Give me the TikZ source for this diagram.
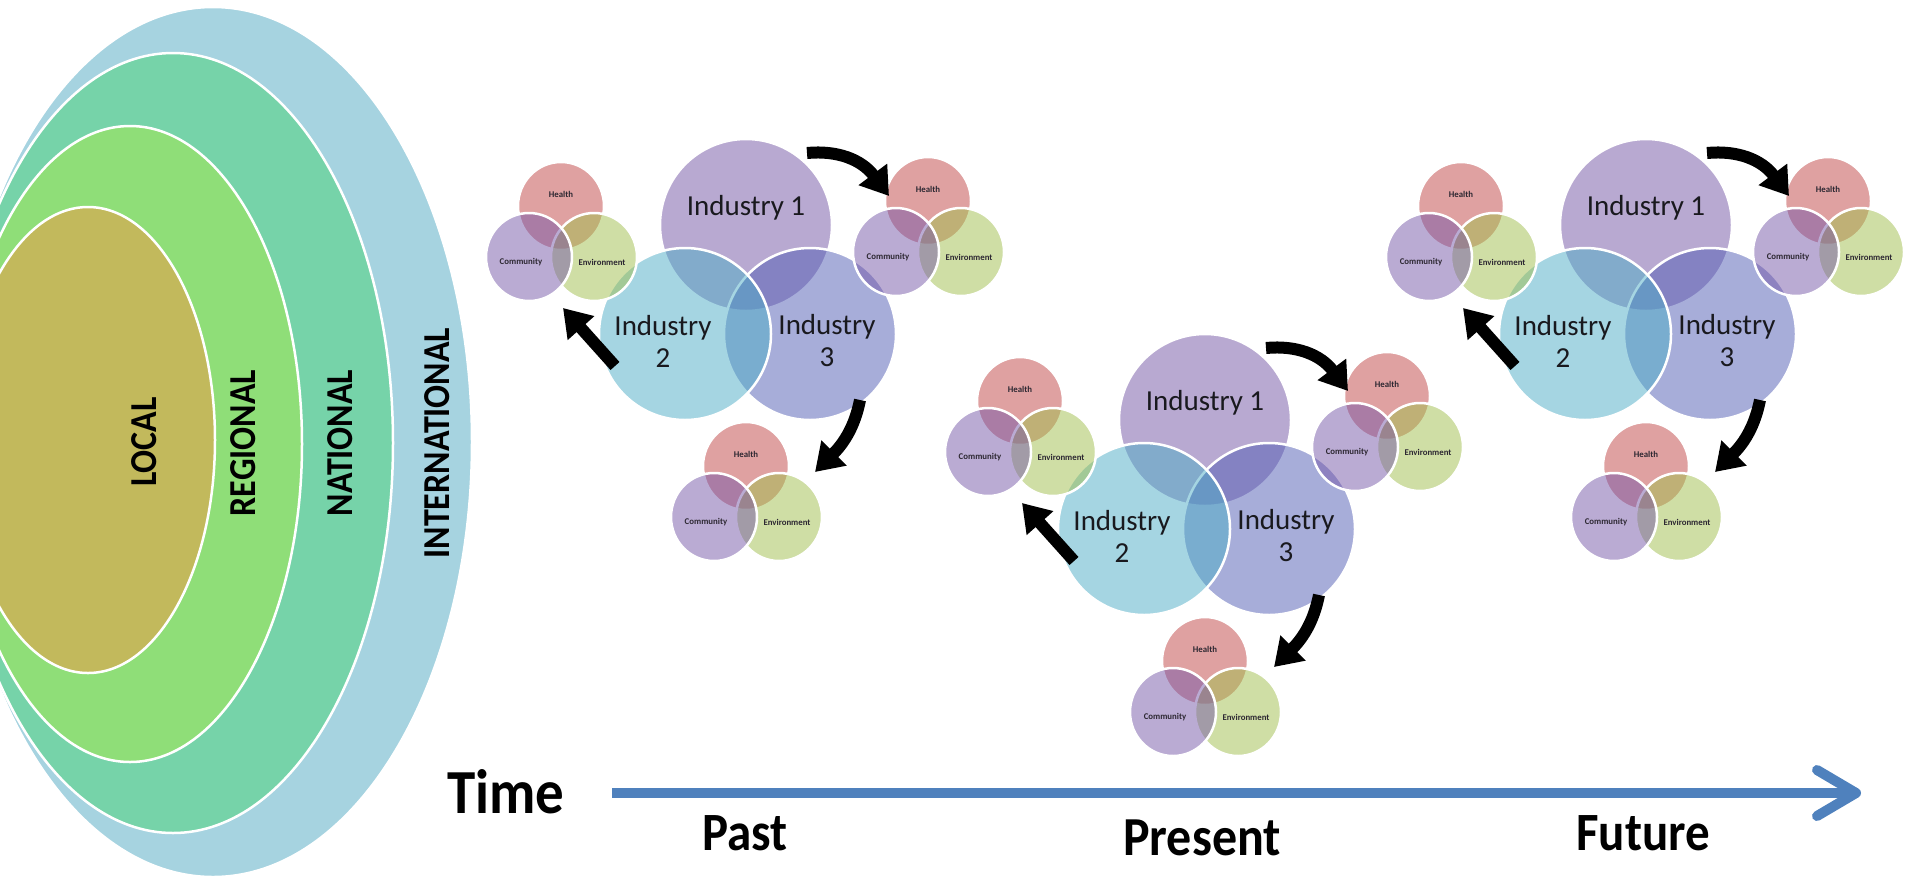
\documentclass[tikz,border=0pt]{standalone}
\usepackage{fontspec}
\setmainfont{Carlito}
\usetikzlibrary{arrows.meta}
\definecolor{intcol}{RGB}{166,211,224}
\definecolor{natcol}{RGB}{118,211,169}
\definecolor{regcol}{RGB}{143,222,120}
\definecolor{loccol}{RGB}{194,185,92}
\definecolor{hbase}{RGB}{193,69,69}
\definecolor{cbase}{RGB}{119,89,169}
\definecolor{ebase}{RGB}{161,191,77}
\definecolor{ione}{RGB}{115,85,165}
\definecolor{itwo}{RGB}{77,173,199}
\definecolor{ithree}{RGB}{81,93,181}
\definecolor{axiscol}{RGB}{79,129,189}
\definecolor{txtcol}{RGB}{25,25,30}
\definecolor{smcol}{RGB}{45,40,50}
\tikzset{
  ring/.style={draw=white, line width=2.5pt},
  ringlabel/.style={font=\fontsize{34}{34}\selectfont\bfseries, rotate=90, inner sep=0pt},
  bigtxt/.style={font=\fontsize{29}{32}\selectfont, text=txtcol, align=center, inner sep=0pt},
  smalltxt/.style={font=\fontsize{8.8}{9}\selectfont\bfseries, text=smcol, inner sep=0pt},
  vennc/.style={draw=white, line width=2.5pt, fill opacity=0.5},
  bendarrow/.style={line width=12pt, -{Triangle[width=34pt,length=27pt]}},
  timelbl/.style={anchor=base, inner sep=0pt},
  axisline/.style={draw=axiscol, line width=10pt, line cap=round, line join=round},
}
\newcommand\smallvenn[3]{%
  \begin{scope}[shift={(#1,#2)}]
    \filldraw[vennc, fill=hbase] (0,0) ellipse [x radius=43, y radius=44];
    \filldraw[vennc, fill=ebase] (33,51) ellipse [x radius=43, y radius=44];
    \filldraw[vennc, fill=cbase] (-32,51) ellipse [x radius=43, y radius=44];
    \node[smalltxt] (#3-h) at (0,-12) {Health};
    \node[smalltxt] (#3-c) at (-40,56) {Community};
    \node[smalltxt] (#3-e) at (41,56) {Environment};
  \end{scope}}
\newcommand\cluster[3]{%
  \begin{scope}[shift={(#1,#2)}]
    \filldraw[vennc, fill=ione] (746,225) circle [radius=86];
    \filldraw[vennc, fill=ithree] (810,334) circle [radius=86];
    \filldraw[vennc, fill=itwo] (685,334) circle [radius=86];
    \smallvenn{561}{206}{#3-vl}
    \smallvenn{928}{201}{#3-vr}
    \smallvenn{746}{466}{#3-vb}
    \node[bigtxt] (#3-t1) at (746,208) {Industry 1};
    \node[bigtxt] (#3-t2) at (663,341) {Industry\\2};
    \node[bigtxt] (#3-t3) at (827,341) {Industry\\3};
    \coordinate (#3-a1s) at (807,153);
    \coordinate (#3-a1e) at (889,196);
    \coordinate (#3-a2s) at (615,366);
    \coordinate (#3-a2e) at (563,308);
    \coordinate (#3-a3s) at (860,400);
    \coordinate (#3-a3e) at (815,472);
    \draw[bendarrow] (#3-a1s) .. controls (838,150) and (862,160) .. (#3-a1e);
    \draw[bendarrow] (#3-a2s) -- (#3-a2e);
    \draw[bendarrow] (#3-a3s) .. controls (855,425) and (845,442) .. (#3-a3e);
  \end{scope}}
\begin{document}
\begin{tikzpicture}[x=1pt,y=-1pt]
  \useasboundingbox (0,0) rectangle (1905,879);
  \fill[white] (0,0) rectangle (1905,879);
  \clip (0,0) rectangle (1905,879);
  % nested scales
  \filldraw[ring, fill=intcol] (213,442) ellipse [x radius=259, y radius=435];
  \filldraw[ring, fill=natcol] (173,443) ellipse [x radius=220, y radius=390];
  \filldraw[ring, fill=regcol] (130,444) ellipse [x radius=172, y radius=318];
  \filldraw[ring, fill=loccol] (88,440) ellipse [x radius=127, y radius=233];
  \node[ringlabel] (local) at (144,442) {\scalebox{1}[1.12]{LOCAL}};
  \node[ringlabel] (regional) at (243,443) {\scalebox{1}[1.12]{REGIONAL}};
  \node[ringlabel] (national) at (340,443) {\scalebox{1}[1.12]{NATIONAL}};
  \node[ringlabel] (international) at (437,443) {\scalebox{1}[1.12]{INTERNATIONAL}};
  % clusters
  \cluster{0}{0}{past}
  \cluster{459}{195}{present}
  \cluster{900}{0}{future}
  % time axis
  \coordinate (t0) at (612,793);
  \coordinate (t1) at (1856,793);
  \coordinate (t1a) at (1817,770);
  \coordinate (t1b) at (1817,816);
  \draw[axisline, line cap=butt] (t0) -- (t1);
  \draw[axisline] (t1a) -- (t1) -- (t1b);
  \node[timelbl, font=\fontsize{57}{57}\selectfont\bfseries] (time) at (506,813) {\scalebox{1}[1.1]{Time}};
  \node[timelbl, font=\fontsize{49}{49}\selectfont\bfseries] (past) at (745,850) {\scalebox{1}[1.1]{Past}};
  \node[timelbl, font=\fontsize{50}{50}\selectfont\bfseries] (present) at (1202,855) {\scalebox{1}[1.1]{Present}};
  \node[timelbl, font=\fontsize{49}{49}\selectfont\bfseries] (future) at (1643,850) {\scalebox{1}[1.1]{Future}};
\end{tikzpicture}
\end{document}
